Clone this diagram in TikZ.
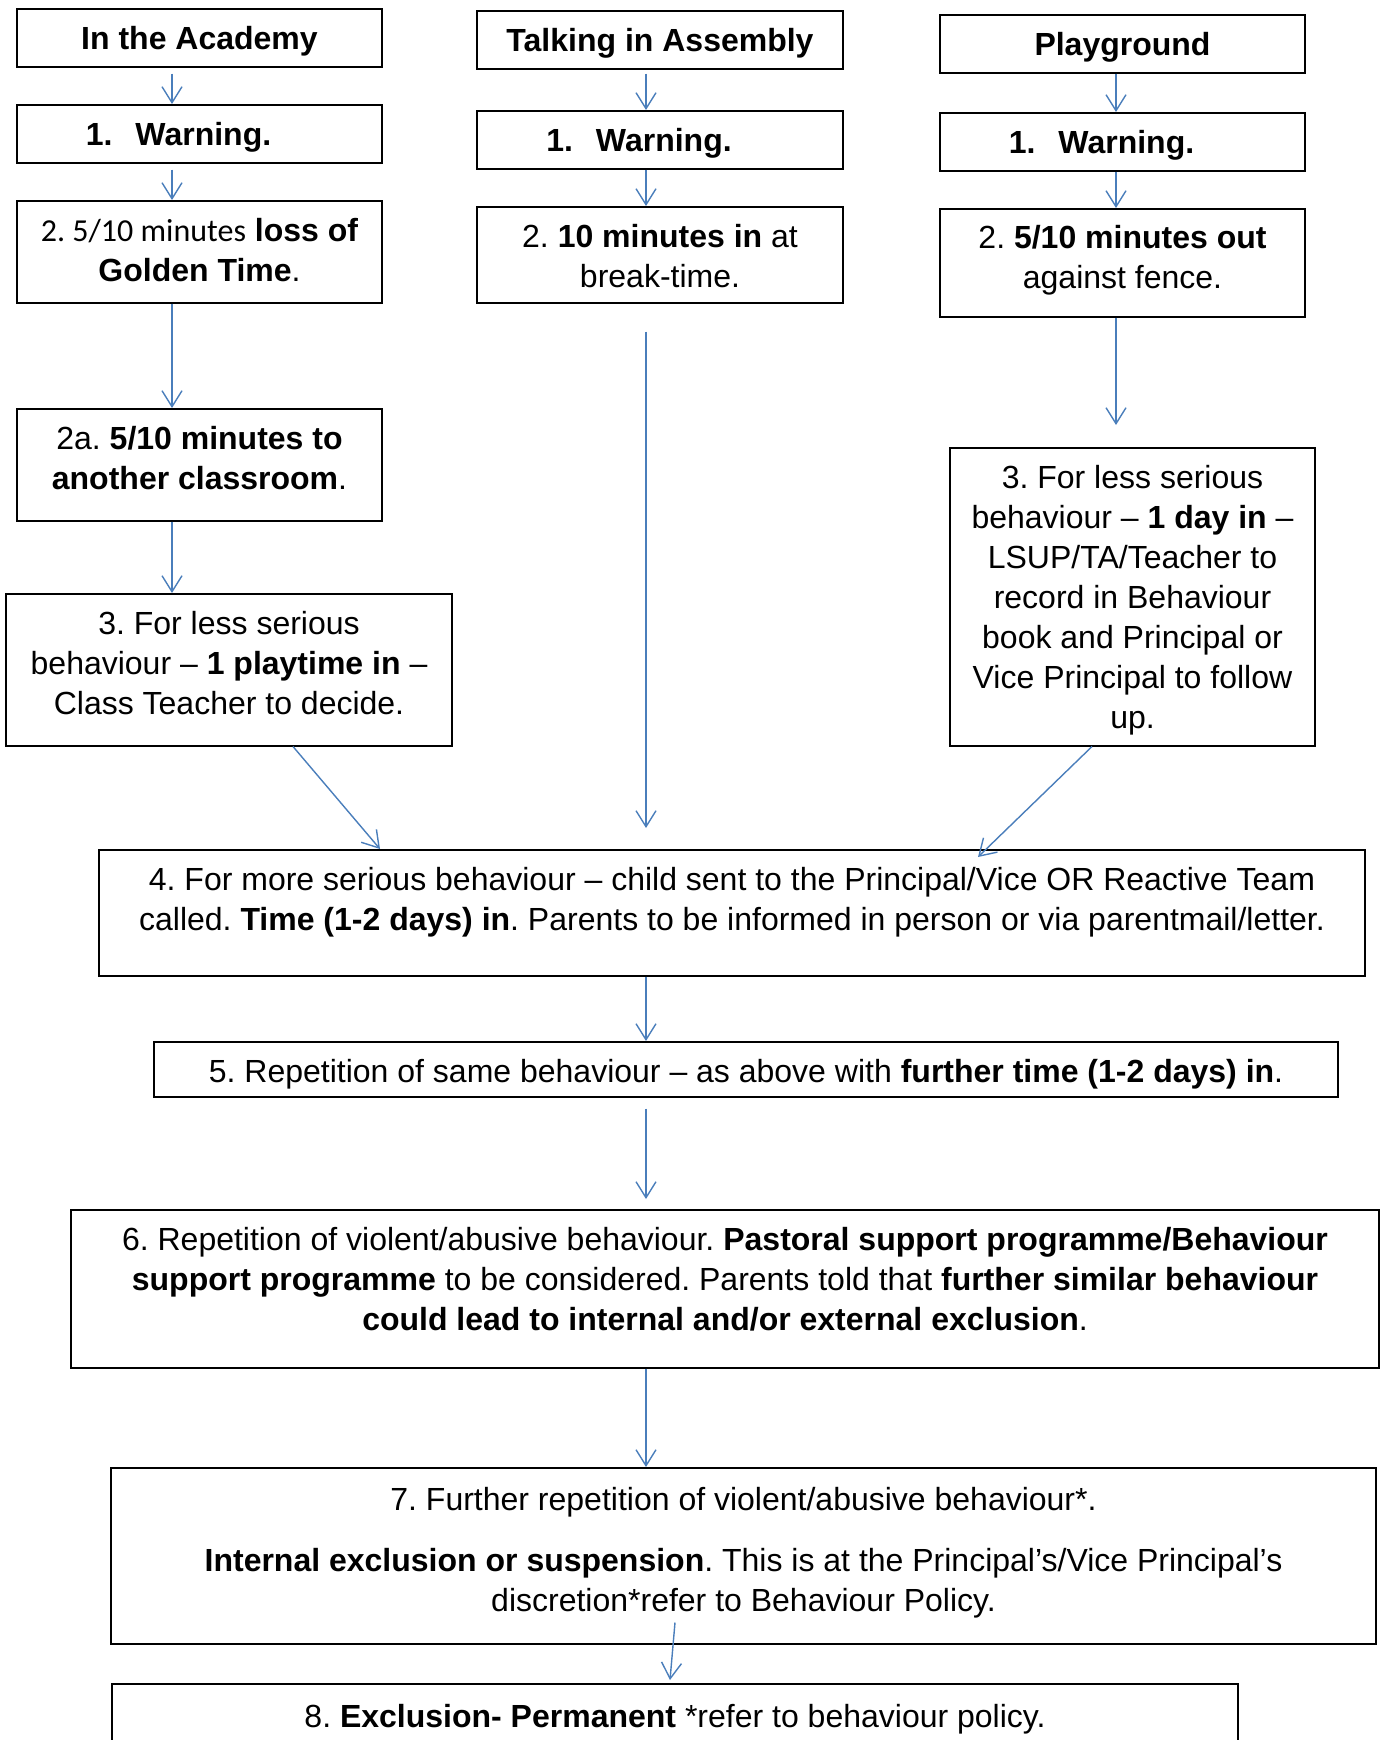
\documentclass[tikz,border=0pt]{standalone}
\usepackage{fontspec}
\setmainfont{Liberation Sans}
\newfontfamily\carlito{Carlito}
\usetikzlibrary{arrows.meta}
\definecolor{arrowblue}{RGB}{74,126,187}
\frenchspacing

\begin{document}
\begin{tikzpicture}[x=1pt, y=-1pt,
  box/.style={draw, line width=1.5pt, align=center, inner sep=0pt,
    anchor=north, text height=41pt, font=\fontsize{32}{40}\selectfont},
  arr/.style={draw=arrowblue, line width=1.4pt,
    -{Straight Barb[length=16pt,width=20pt]}}
  ]
  \useasboundingbox (0,0) rectangle (1381,1740);
  \clip (0,0) rectangle (1381,1740);

  % in the academy
  \node[box, minimum width=365pt, text depth=17pt] (A0) at (199.5,8)
    {\textbf{In the Academy}};
  \node[box, minimum width=365pt, text depth=17pt] (A1) at (199.5,104)
    {\textbf{1.\hspace{23pt}Warning.}\hspace*{42pt}};
  \node[box, minimum width=365pt, text height=81pt, text depth=21pt] (A2) at (199.5,200)
    {{\carlito 2. 5/10 minutes} \textbf{loss of}\\\textbf{Golden Time}.};
  \node[box, minimum width=365pt, text height=81pt, text depth=31pt] (A2a) at (199.5,408)
    {2a. \textbf{5/10 minutes to}\\\textbf{another classroom}.};
  \node[box, minimum width=446pt, text height=121pt, text depth=31pt] (A3) at (229,593)
    {3. For less serious\\behaviour – \textbf{1 playtime in} –\\Class Teacher to decide.};

  % talking in assembly
  \node[box, minimum width=366pt, text depth=17pt] (T0) at (660,10)
    {\textbf{Talking in Assembly}};
  \node[box, minimum width=366pt, text depth=17pt] (T1) at (660,110)
    {\textbf{1.\hspace{23pt}Warning.}\hspace*{42pt}};
  \node[box, minimum width=366pt, text height=81pt, text depth=15pt] (T2) at (660,206)
    {2. \textbf{10 minutes in} at\\break-time.};

  % playground
  \node[box, minimum width=365pt, text depth=17pt] (P0) at (1122.5,14)
    {\textbf{Playground}};
  \node[box, minimum width=365pt, text depth=17pt] (P1) at (1122.5,112)
    {\textbf{1.\hspace{23pt}Warning.}\hspace*{42pt}};
  \node[box, minimum width=365pt, text height=80pt, text depth=28pt] (P2) at (1122.5,208)
    {2. \textbf{5/10 minutes out}\\against fence.};
  \node[box, minimum width=365pt, text height=281pt, text depth=17pt] (P3) at (1132.5,447)
    {3. For less serious\\behaviour – \textbf{1 day in} –\\LSUP/TA/Teacher to\\record in Behaviour\\book and Principal or\\Vice Principal to follow\\up.};

  % common steps
  \node[box, minimum width=1266pt, text height=81pt, text depth=45pt] (B4) at (732,849)
    {4. For more serious behaviour – child sent to the Principal/Vice OR Reactive Team\\called. \textbf{Time (1-2 days) in}. Parents to be informed in person or via parentmail/letter.};
  \node[box, minimum width=1184pt, text depth=14pt] (B5) at (746,1041)
    {5. Repetition of same behaviour – as above with \textbf{further time (1-2 days) in}.};
  \node[box, minimum width=1308pt, text height=121pt, text depth=37pt] (B6) at (725,1209)
    {6. Repetition of violent/abusive behaviour. \textbf{Pastoral support programme/Behaviour}\\\textbf{support programme} to be considered. Parents told that \textbf{further similar behaviour}\\\textbf{could lead to internal and/or external exclusion}.};
  \node[box, minimum width=1265pt, text height=144pt, text depth=32pt] (B7) at (743.5,1467)
    {7. Further repetition of violent/abusive behaviour*.\\[21pt]\textbf{Internal exclusion or suspension}. This is at the Principal’s/Vice Principal’s\\discretion*refer to Behaviour Policy.};
  \node[box, minimum width=1126pt, text height=44pt, text depth=60pt] (B8) at (675,1683)
    {8. \textbf{Exclusion- Permanent} *refer to behaviour policy.};

  \draw[arr, shorten <=6pt] ([xshift=-27.5pt]A0.south) -- ([xshift=-27.5pt]A1.north);
  \draw[arr, shorten <=6pt] ([xshift=-27.5pt]A1.south) -- ([xshift=-27.5pt]A2.north);
  \draw[arr] ([xshift=-27.5pt]A2.south) -- ([xshift=-27.5pt]A2a.north);
  \draw[arr] ([xshift=-27.5pt]A2a.south) -- ([xshift=-57pt]A3.north);
  \draw[arr, shorten <=4pt] ([xshift=-14pt]T0.south) -- ([xshift=-14pt]T1.north);
  \draw[arr] ([xshift=-14pt]T1.south) -- ([xshift=-14pt]T2.north);
  \draw[arr, shorten <=28pt, shorten >=21pt] ([xshift=-14pt]T2.south) -- ([xshift=-86pt]B4.north);
  \draw[arr] ([xshift=-6.5pt]P0.south) -- ([xshift=-6.5pt]P1.north);
  \draw[arr] ([xshift=-6.5pt]P1.south) -- ([xshift=-6.5pt]P2.north);
  \draw[arr, shorten >=22pt] ([xshift=-6.5pt]P2.south) -- ([xshift=-16.5pt]P3.north);
  \draw[arr] ([xshift=64pt]A3.south) -- ([xshift=-352pt]B4.north);
  \draw[arr] ([xshift=-40.5pt]P3.south) -- ([xshift=246pt,yshift=-8pt]B4.north);
  \draw[arr] ([xshift=-86pt]B4.south) -- ([xshift=-100pt]B5.north);
  \draw[arr, shorten <=11pt, shorten >=10pt] ([xshift=-100pt]B5.south) -- ([xshift=-79pt]B6.north);
  \draw[arr] ([xshift=-79pt]B6.south) -- ([xshift=-97.5pt]B7.north);
  \draw[arr] ([xshift=-68.5pt,yshift=22pt]B7.south) -- ([xshift=-5pt,yshift=3pt]B8.north);
\end{tikzpicture}
\end{document}
